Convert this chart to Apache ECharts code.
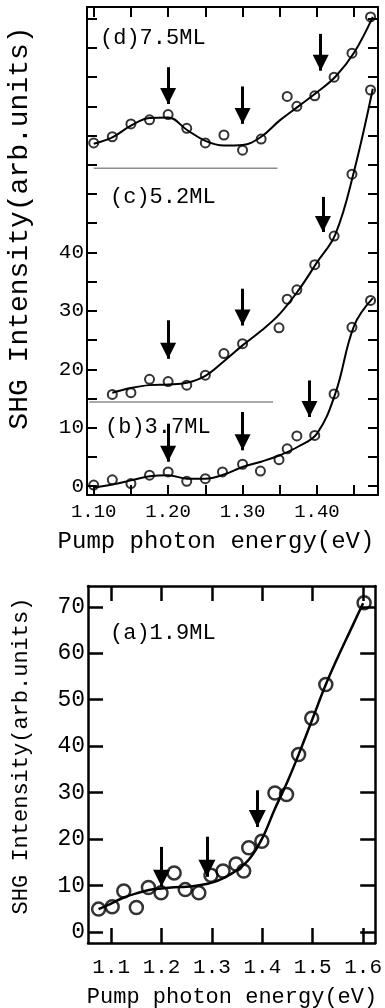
<!DOCTYPE html>
<html>
<head>
<meta charset="utf-8">
<script src="https://cdn.jsdelivr.net/npm/echarts@6.0.0/dist/echarts.min.js"></script>
<style>
  html, body { margin: 0; padding: 0; background: #fff; }
  #chart { width: 385px; height: 1008px; }
</style>
</head>
<body>
<div id="chart"></div>
<script>
// upper panel: (d) 7.5ML, (c) 5.2ML, (b) 3.7ML (offset curves)
const dX = [1.10, 1.125, 1.15, 1.175, 1.20, 1.225, 1.25, 1.275, 1.30, 1.325, 1.36, 1.373, 1.397, 1.423, 1.447, 1.472];
const dY = [58.75, 59.8, 62.0, 62.7, 63.6, 61.25, 58.75, 60.1, 57.5, 59.4, 66.7, 65.0, 66.8, 70.0, 74.1, 80.3];
const cX = [1.125, 1.15, 1.175, 1.20, 1.225, 1.25, 1.275, 1.30, 1.349, 1.36, 1.373, 1.397, 1.423, 1.447, 1.472];
const cY = [15.7, 16.0, 18.3, 17.9, 17.3, 19.0, 22.7, 24.4, 27.1, 32.0, 33.6, 37.9, 42.8, 53.4, 67.8];
const bX = [1.10, 1.125, 1.15, 1.175, 1.20, 1.225, 1.25, 1.273, 1.30, 1.324, 1.349, 1.36, 1.373, 1.397, 1.423, 1.447, 1.472];
const bY = [0.2, 1.1, 0.45, 1.9, 2.45, 0.85, 1.3, 2.45, 3.76, 2.6, 4.55, 6.4, 8.6, 8.7, 15.8, 27.2, 31.8];

// fitted curves
const topFitX = [1.10, 1.125, 1.15, 1.175, 1.20, 1.225, 1.25, 1.275, 1.30, 1.325, 1.35, 1.375, 1.40, 1.425, 1.45, 1.475];
const dFit = [58.6, 59.7, 61.7, 63.0, 63.1, 61.0, 59.1, 58.3, 58.4, 59.8, 62.6, 65.0, 67.4, 70.1, 74.2, 80.3];
const cFitX = [1.125, 1.15, 1.175, 1.20, 1.225, 1.25, 1.275, 1.30, 1.325, 1.35, 1.375, 1.40, 1.425, 1.45, 1.475];
const cFit = [16.0, 16.8, 17.3, 17.4, 17.7, 18.9, 21.4, 24.1, 26.6, 29.5, 33.5, 38.3, 43.2, 54.0, 68.0];
const bFit = [-0.2, 0.3, 1.0, 1.7, 1.9, 1.3, 1.3, 2.0, 3.3, 4.2, 5.3, 6.8, 9.0, 16.0, 27.5, 32.2];

// grey separators between offset curves: [xStart, xEnd], y
const dividerX = [[1.10, 1.347], [1.094, 1.341]];
const dividerY = [54.4, 14.4];

// arrows: [x, yFrom, yTip]
const topArrows = [
  [1.20, 71.7, 65.4], [1.30, 68.4, 62.0], [1.405, 77.4, 71.1],
  [1.20, 28.4, 21.8], [1.30, 33.8, 27.5], [1.408, 49.5, 43.5],
  [1.20, 10.7, 4.2], [1.30, 12.7, 6.15], [1.39, 18.1, 11.85]
];

// lower panel: (a) 1.9ML
const aX = [1.075, 1.102, 1.125, 1.15, 1.174, 1.199, 1.225, 1.247, 1.274, 1.298, 1.322, 1.348, 1.363, 1.373, 1.399, 1.425, 1.448, 1.472, 1.498, 1.526, 1.602];
const aY = [4.9, 5.4, 8.8, 5.25, 9.55, 8.4, 12.7, 9.1, 8.4, 12.2, 13.1, 14.6, 13.1, 18.1, 19.5, 29.9, 29.6, 38.2, 46.0, 53.3, 70.9];
const aFitX = [1.075, 1.10, 1.125, 1.15, 1.175, 1.20, 1.225, 1.25, 1.275, 1.30, 1.325, 1.35, 1.375, 1.40, 1.425, 1.45, 1.475, 1.50, 1.525, 1.55, 1.575, 1.60];
const aFit = [4.9, 6.1, 7.4, 8.3, 9.0, 9.35, 9.6, 9.7, 10.05, 10.6, 11.7, 13.3, 15.8, 20.2, 26.5, 32.4, 39.0, 46.0, 53.0, 59.2, 65.0, 70.8];
const bottomArrows = [[1.20, 18.3, 9.7], [1.29, 20.5, 11.85], [1.39, 30.5, 22.6]];

// ticks and labels
const topXTicks = [1.10, 1.15, 1.20, 1.25, 1.30, 1.35, 1.40, 1.45];
const topXLabels = [1.10, 1.20, 1.30, 1.40];
const topYTicks = [0, 5, 10, 15, 20, 25, 30, 35, 40, 45, 50, 55, 60, 65, 70, 75, 80];
const topYLabels = [0, 10, 20, 30, 40];
const botXTicks = [1.1, 1.2, 1.3, 1.4, 1.5, 1.6];
const botYTicks = [0, 10, 20, 30, 40, 50, 60, 70];

const panelLabels = ['(d)7.5ML', '(c)5.2ML', '(b)3.7ML', '(a)1.9ML'];
const yTitle = 'SHG Intensity(arb.units)';
const xTitle = 'Pump photon energy(eV)';

const FONT = '"Liberation Mono", "DejaVu Sans Mono", monospace';
const zip = (xs, ys) => xs.map((x, i) => [x, ys[i]]);

function xAxis(grid, pos, min, max, ticks, labels, tickLen, lw, digits, fontSize, margin) {
  return {
    type: 'value', gridIndex: grid, position: pos, min, max,
    axisLine: { show: true, onZero: false, lineStyle: { color: '#000', width: lw } },
    axisTick: { show: true, inside: true, length: tickLen, customValues: ticks, lineStyle: { color: '#000', width: lw } },
    axisLabel: labels ? {
      show: true, customValues: labels, margin, color: '#000', fontSize, fontFamily: FONT,
      formatter: v => Number(v).toFixed(digits)
    } : { show: false },
    splitLine: { show: false }
  };
}

function yAxis(grid, pos, min, max, ticks, labels, tickLen, lw, fontSize) {
  return {
    type: 'value', gridIndex: grid, position: pos, min, max,
    axisLine: { show: true, onZero: false, lineStyle: { color: '#000', width: lw } },
    axisTick: { show: true, inside: true, length: tickLen, customValues: ticks, lineStyle: { color: '#000', width: lw } },
    axisLabel: labels ? {
      show: true, customValues: labels, margin: 3, color: '#000', fontSize, fontFamily: FONT
    } : { show: false },
    splitLine: { show: false }
  };
}

function curve(xi, yi, xs, ys, lw) {
  return {
    type: 'line', xAxisIndex: xi, yAxisIndex: yi, data: zip(xs, ys),
    smooth: 0.4, symbol: 'none', silent: true,
    lineStyle: { color: '#000', width: lw }
  };
}

function dots(xi, yi, xs, ys, size, bw) {
  return {
    type: 'scatter', xAxisIndex: xi, yAxisIndex: yi, data: zip(xs, ys),
    symbol: 'circle', symbolSize: size, silent: true, z: 3,
    itemStyle: { color: 'rgba(0,0,0,0)', borderColor: '#000', borderWidth: bw }
  };
}

// arrow shaft + triangular head; head shifted so its tip sits on the end point
function arrows(xi, yi, list, head) {
  return {
    type: 'scatter', xAxisIndex: xi, yAxisIndex: yi, data: [], silent: true,
    markLine: {
      silent: true, animation: false,
      symbol: ['none', 'triangle'],
      symbolSize: head,
      symbolOffset: [[0, 0], [0, head / 2]],
      lineStyle: { color: '#000', width: 3, type: 'solid' },
      label: { show: false },
      data: list.map(a => [{ coord: [a[0], a[1]] }, { coord: [a[0], a[2]] }])
    }
  };
}

const text = (x, y, str, size, rot, align) => ({
  type: 'text', x, y, rotation: rot || 0, silent: true,
  style: {
    text: str, fill: '#000', font: size + 'px ' + FONT,
    align: align || 'center', verticalAlign: 'middle',
    textAlign: align || 'center', textVerticalAlign: 'middle'
  }
});

const chart = echarts.init(document.getElementById('chart'), null, { renderer: 'canvas' });

chart.setOption({
  animation: false,
  backgroundColor: '#fff',
  grid: [
    { left: 87, top: 7, width: 291, height: 488 },
    { left: 88, top: 586, width: 288, height: 357 }
  ],
  xAxis: [
    xAxis(0, 'bottom', 1.091, 1.482, topXTicks, topXLabels, 10, 2, 2, 19, 7),
    xAxis(0, 'top', 1.091, 1.482, topXTicks, null, 10, 2),
    xAxis(1, 'bottom', 1.054, 1.624, botXTicks, botXTicks, 15, 2.5, 1, 21, 14),
    xAxis(1, 'top', 1.054, 1.624, botXTicks, null, 15, 2.5)
  ],
  yAxis: [
    yAxis(0, 'left', -1.5, 82, topYTicks, topYLabels, 10, 2, 21),
    yAxis(0, 'right', -1.5, 82, topYTicks, null, 10, 2),
    yAxis(1, 'left', -2.4, 74.5, botYTicks, botYTicks, 15, 2.5, 23),
    yAxis(1, 'right', -2.4, 74.5, botYTicks, null, 15, 2.5)
  ],
  series: [
    ...dividerY.map((y, i) => ({
      type: 'line', xAxisIndex: 0, yAxisIndex: 0, symbol: 'none', silent: true,
      data: [[dividerX[i][0], y], [dividerX[i][1], y]],
      lineStyle: { color: '#8c8c8c', width: 1.5 }
    })),
    curve(0, 0, topFitX, dFit, 2),
    curve(0, 0, cFitX, cFit, 2),
    curve(0, 0, topFitX, bFit, 2),
    dots(0, 0, dX, dY, 9, 2),
    dots(0, 0, cX, cY, 9, 2),
    dots(0, 0, bX, bY, 9, 2),
    arrows(0, 0, topArrows, 16),
    curve(2, 2, aFitX, aFit, 2.5),
    dots(2, 2, aX, aY, 13, 2.5),
    arrows(2, 2, bottomArrows, 17)
  ],
  graphic: [
    text(20, 228, yTitle, 28, Math.PI / 2),
    text(216, 542, xTitle, 24, 0),
    text(21, 756, yTitle, 22, Math.PI / 2),
    text(232, 997, xTitle, 22, 0),
    text(100, 38, panelLabels[0], 22, 0, 'left'),
    text(110, 197, panelLabels[1], 22, 0, 'left'),
    text(105, 427, panelLabels[2], 22, 0, 'left'),
    text(110, 633, panelLabels[3], 22, 0, 'left')
  ]
});
</script>
</body>
</html>
